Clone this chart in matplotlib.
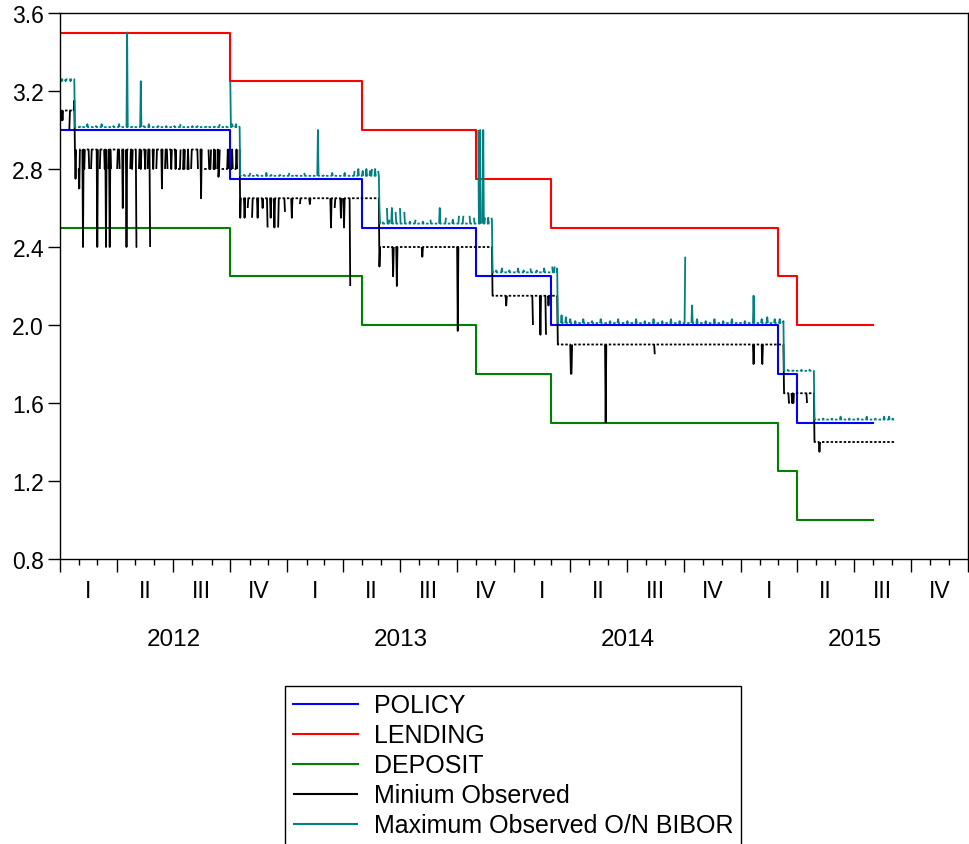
import numpy as np
import pandas as pd
import matplotlib
matplotlib.use("Agg")
import matplotlib.pyplot as plt
import matplotlib.dates as mdates
from matplotlib.ticker import NullFormatter
from matplotlib.transforms import blended_transform_factory

plt.rcParams["font.family"] = ["Liberation Sans", "DejaVu Sans"]

# monthly corridor rates, Jan 2012 .. Jul 2015 (months spent at each level)
rate_months = [9, 7, 6, 4, 12, 1, 4]
policy_levels = [3.00, 2.75, 2.50, 2.25, 2.00, 1.75, 1.50]
lending_levels = [3.50, 3.25, 3.00, 2.75, 2.50, 2.25, 2.00]
deposit_levels = [2.50, 2.25, 2.00, 1.75, 1.50, 1.25, 1.00]

# daily O/N BIBOR fixings: each regime starts on the given day
regime_starts = ["2012-01-02", "2012-01-25", "2012-10-17", "2013-05-29",
                 "2013-11-27", "2014-03-12", "2015-03-11", "2015-04-29"]
last_day = "2015-09-04"
min_levels = [3.10, 2.90, 2.65, 2.40, 2.15, 1.90, 1.65, 1.40]
max_levels = [3.26, 3.015, 2.765, 2.52, 2.27, 2.01, 1.765, 1.515]

# days where the lowest fixing left its usual level
min_moves = [
    ("2012-01-03", 3.05), ("2012-01-05", 3.05), ("2012-01-16", 3.00), ("2012-01-24", 3.15),
    ("2012-01-26", 2.75), ("2012-01-30", 2.80), ("2012-01-31", 2.80), ("2012-02-01", 2.70),
    ("2012-02-07", 2.40), ("2012-02-09", 2.80), ("2012-02-17", 2.80), ("2012-02-20", 2.80),
    ("2012-03-01", 2.40), ("2012-03-05", 2.80), ("2012-03-13", 2.80), ("2012-03-15", 2.40),
    ("2012-03-19", 2.80), ("2012-03-21", 2.40), ("2012-03-23", 2.80), ("2012-04-02", 2.80),
    ("2012-04-06", 2.80), ("2012-04-11", 2.60), ("2012-04-17", 2.40), ("2012-04-23", 2.80),
    ("2012-04-26", 2.80), ("2012-05-03", 2.40), ("2012-05-04", 2.40), ("2012-05-07", 2.80),
    ("2012-05-10", 2.80), ("2012-05-17", 2.80), ("2012-05-21", 2.80), ("2012-05-25", 2.40),
    ("2012-05-30", 2.80), ("2012-06-04", 2.80), ("2012-06-13", 2.70), ("2012-06-18", 2.80),
    ("2012-06-22", 2.80), ("2012-06-28", 2.80), ("2012-07-05", 2.80), ("2012-07-09", 2.80),
    ("2012-07-10", 2.80), ("2012-07-11", 2.80), ("2012-07-12", 2.80), ("2012-07-16", 2.80),
    ("2012-07-17", 2.80), ("2012-07-19", 2.80), ("2012-07-23", 2.80), ("2012-07-24", 2.80),
    ("2012-07-26", 2.80), ("2012-07-27", 2.80), ("2012-07-30", 2.80), ("2012-08-10", 2.80),
    ("2012-08-15", 2.65), ("2012-08-20", 2.80), ("2012-08-21", 2.80), ("2012-08-22", 2.80),
    ("2012-08-23", 2.80), ("2012-08-24", 2.80), ("2012-08-28", 2.80), ("2012-08-29", 2.80),
    ("2012-08-30", 2.80), ("2012-09-03", 2.80), ("2012-09-04", 2.80), ("2012-09-06", 2.80),
    ("2012-09-10", 2.80), ("2012-09-12", 2.76), ("2012-09-13", 2.80), ("2012-09-17", 2.80),
    ("2012-09-18", 2.80), ("2012-09-19", 2.80), ("2012-09-20", 2.80), ("2012-09-21", 2.80),
    ("2012-09-24", 2.80), ("2012-09-25", 2.80), ("2012-09-26", 2.80), ("2012-09-28", 2.80),
    ("2012-10-01", 2.80), ("2012-10-02", 2.80), ("2012-10-03", 2.80), ("2012-10-05", 2.80),
    ("2012-10-08", 2.80), ("2012-10-09", 2.80), ("2012-10-10", 2.80), ("2012-10-12", 2.80),
    ("2012-10-17", 2.55), ("2012-10-24", 2.55), ("2012-10-29", 2.60), ("2012-11-05", 2.55),
    ("2012-11-14", 2.55), ("2012-11-22", 2.60), ("2012-11-30", 2.50), ("2012-12-05", 2.55),
    ("2012-12-11", 2.50), ("2012-12-17", 2.50), ("2012-12-28", 2.58), ("2013-01-08", 2.55),
    ("2013-01-21", 2.62), ("2013-02-06", 2.62), ("2013-03-12", 2.50), ("2013-03-18", 2.60),
    ("2013-03-28", 2.55), ("2013-04-02", 2.50), ("2013-04-12", 2.20),
    ("2013-05-29", 2.30), ("2013-06-20", 2.25), ("2013-06-26", 2.20), ("2013-08-06", 2.35),
    ("2013-10-02", 1.97),
    ("2013-12-19", 2.10), ("2014-01-31", 2.00), ("2014-02-12", 1.95), ("2014-02-21", 1.95),
    ("2014-02-25", 2.10),
    ("2014-04-02", 1.75), ("2014-04-03", 1.75), ("2014-05-28", 1.50), ("2014-08-15", 1.85),
    ("2015-01-21", 1.80), ("2015-02-04", 1.80),
    ("2015-03-19", 1.60), ("2015-03-20", 1.60), ("2015-03-24", 1.60), ("2015-03-26", 1.60),
    ("2015-04-17", 1.60), ("2015-05-07", 1.35),
]

# days where the highest fixing left its usual level
max_moves = [
    ("2012-01-04", 3.25), ("2012-01-10", 3.25), ("2012-01-18", 3.25),
    ("2012-02-03", 3.02), ("2012-02-14", 3.03), ("2012-02-28", 3.02), ("2012-03-08", 3.03),
    ("2012-03-27", 3.02), ("2012-04-05", 3.03), ("2012-04-18", 3.50), ("2012-04-27", 3.02),
    ("2012-05-10", 3.25), ("2012-05-15", 3.02), ("2012-05-23", 3.03), ("2012-06-07", 3.02),
    ("2012-06-20", 3.02), ("2012-07-03", 3.02), ("2012-07-13", 3.03), ("2012-08-01", 3.02),
    ("2012-08-09", 3.02), ("2012-08-24", 3.02), ("2012-09-07", 3.02), ("2012-09-14", 3.03),
    ("2012-09-24", 3.02), ("2012-10-01", 3.25), ("2012-10-04", 3.03), ("2012-10-10", 3.03),
    ("2012-10-15", 3.02),
    ("2012-10-23", 2.77), ("2012-11-02", 2.78), ("2012-11-13", 2.77), ("2012-11-28", 2.78),
    ("2012-12-06", 2.77), ("2012-12-20", 2.77), ("2013-01-04", 2.78), ("2013-01-14", 2.77),
    ("2013-01-28", 2.78), ("2013-02-19", 3.00), ("2013-03-01", 2.77), ("2013-03-14", 2.78),
    ("2013-04-03", 2.78), ("2013-04-19", 2.79), ("2013-04-25", 2.80), ("2013-05-02", 2.79),
    ("2013-05-08", 2.80), ("2013-05-14", 2.79), ("2013-05-17", 2.80), ("2013-05-22", 2.80),
    ("2013-05-27", 2.79),
    ("2013-05-29", 2.60), ("2013-06-03", 2.53), ("2013-06-10", 2.60), ("2013-06-14", 2.54),
    ("2013-06-18", 2.60), ("2013-06-24", 2.58), ("2013-07-01", 2.60), ("2013-07-08", 2.58),
    ("2013-07-17", 2.53), ("2013-07-26", 2.54), ("2013-08-07", 2.53), ("2013-08-19", 2.54),
    ("2013-09-03", 2.60), ("2013-09-13", 2.55), ("2013-09-24", 2.54), ("2013-10-04", 2.56),
    ("2013-10-11", 2.56), ("2013-10-21", 2.56), ("2013-10-28", 2.55), ("2013-11-04", 3.00),
    ("2013-11-07", 3.00), ("2013-11-12", 3.00), ("2013-11-15", 2.55), ("2013-11-20", 2.55),
    ("2013-11-25", 2.55), ("2013-11-26", 2.54),
    ("2013-12-03", 2.28), ("2013-12-12", 2.29), ("2013-12-24", 2.28), ("2014-01-07", 2.29),
    ("2014-01-16", 2.28), ("2014-01-27", 2.29), ("2014-02-06", 2.28), ("2014-02-18", 2.29),
    ("2014-03-03", 2.30), ("2014-03-07", 2.30), ("2014-03-11", 2.29),
    ("2014-03-18", 2.05), ("2014-03-25", 2.04), ("2014-04-01", 2.03), ("2014-04-09", 2.02),
    ("2014-04-22", 2.03), ("2014-05-06", 2.02), ("2014-05-20", 2.03), ("2014-06-04", 2.02),
    ("2014-06-17", 2.03), ("2014-07-02", 2.02), ("2014-07-16", 2.03), ("2014-07-30", 2.02),
    ("2014-08-13", 2.03), ("2014-08-27", 2.02), ("2014-09-10", 2.03), ("2014-09-24", 2.02),
    ("2014-10-03", 2.35), ("2014-10-14", 2.10), ("2014-10-22", 2.03), ("2014-11-05", 2.02),
    ("2014-11-19", 2.03), ("2014-12-03", 2.02), ("2014-12-17", 2.03), ("2015-01-07", 2.02),
    ("2015-01-21", 2.15), ("2015-02-03", 2.03), ("2015-02-12", 2.04), ("2015-02-24", 2.03),
    ("2015-03-04", 2.03), ("2015-03-10", 2.02),
    ("2015-03-17", 1.77), ("2015-03-27", 1.77), ("2015-04-08", 1.77), ("2015-04-21", 1.77),
    ("2015-05-13", 1.52), ("2015-05-27", 1.52), ("2015-06-10", 1.53), ("2015-06-24", 1.52),
    ("2015-07-08", 1.52), ("2015-07-22", 1.53), ("2015-08-05", 1.52), ("2015-08-19", 1.53),
    ("2015-08-27", 1.53), ("2015-09-02", 1.52),
]

quarter_names = ["I", "II", "III", "IV"]
years = [2012, 2013, 2014, 2015]
yticks = [0.8, 1.2, 1.6, 2.0, 2.4, 2.8, 3.2, 3.6]


def monthly_steps(levels):
    dates = pd.date_range("2012-01-01", periods=sum(rate_months) + 1, freq="MS")
    vals = np.repeat(levels, rate_months)
    return dates, np.append(vals, vals[-1])


def daily_extremes(levels, moves):
    days = pd.bdate_range(regime_starts[0], last_day)
    starts = pd.to_datetime(regime_starts)
    regime = starts.searchsorted(days, side="right") - 1
    values = pd.Series(np.asarray(levels)[regime], index=days)
    for day, val in moves:
        pos = days.get_indexer([pd.Timestamp(day)], method="nearest")[0]
        values.iloc[pos] = val
    # no fixings on weekends -> gaps in the line
    return values.reindex(pd.date_range(days[0], days[-1], freq="D"))


fig = plt.figure(figsize=(9.7, 8.45), dpi=100)
ax = fig.add_axes([60 / 970, 285 / 845, 908 / 970, 546 / 845])

handles = []
for levels, color, label in [(policy_levels, "#0000ff", "POLICY"),
                             (lending_levels, "#ff0000", "LENDING"),
                             (deposit_levels, "#008000", "DEPOSIT")]:
    d, v = monthly_steps(levels)
    h, = ax.step(d, v, where="post", color=color, lw=1.5, label=label)
    handles.append(h)

s_min = daily_extremes(min_levels, min_moves)
s_max = daily_extremes(max_levels, max_moves)
h, = ax.plot(s_min.index, s_min.values, color="black", lw=1.3,
             solid_capstyle="butt", label="Minium Observed")
handles.append(h)
h, = ax.plot(s_max.index, s_max.values, color="#008080", lw=1.3,
             solid_capstyle="butt", label="Maximum Observed O/N BIBOR")
handles.append(h)

ax.set_xlim(pd.Timestamp("2012-01-01"), pd.Timestamp("2016-01-01"))
ax.set_ylim(0.8, 3.6)
ax.set_yticks(yticks)
ax.set_yticklabels([f"{t:.1f}" for t in yticks], fontsize=16.5)
ax.tick_params(axis="y", direction="out", length=8.5, width=1, pad=3, right=False)

ax.xaxis.set_major_locator(mdates.MonthLocator(bymonth=[1, 4, 7, 10]))
ax.xaxis.set_minor_locator(mdates.MonthLocator())
ax.xaxis.set_major_formatter(NullFormatter())
ax.tick_params(axis="x", which="major", direction="out", length=9.5, width=1, top=False)
ax.tick_params(axis="x", which="minor", direction="out", length=4.5, width=1, top=False)

for sp in ax.spines.values():
    sp.set_color("black")
    sp.set_linewidth(1.0)

# quarter numerals and years under the axis
trans = blended_transform_factory(ax.transData, ax.transAxes)
for yr in years:
    for q in range(4):
        q0 = pd.Timestamp(year=yr, month=3 * q + 1, day=1)
        q1 = q0 + pd.DateOffset(months=3)
        mid = q0 + (q1 - q0) / 2
        ax.text(mid, -0.057, quarter_names[q], transform=trans, ha="center", va="center",
                fontsize=16.5)
    y0 = pd.Timestamp(year=yr, month=1, day=1)
    mid = y0 + (pd.Timestamp(year=yr + 1, month=1, day=1) - y0) / 2
    ax.text(mid, -0.146, str(yr), transform=trans, ha="center", va="center", fontsize=17.5)

leg = fig.legend(handles=handles, loc="upper left", bbox_to_anchor=(285 / 970, 1 - 687 / 845),
                 frameon=True, fancybox=False, edgecolor="black", framealpha=1,
                 fontsize=18, handlelength=2.6, handletextpad=0.64, labelspacing=0.24,
                 borderpad=0.3, borderaxespad=0)
leg.get_frame().set_linewidth(1.0)
for line in leg.get_lines():
    line.set_linewidth(1.5)

fig.savefig("out.png", dpi=100)
